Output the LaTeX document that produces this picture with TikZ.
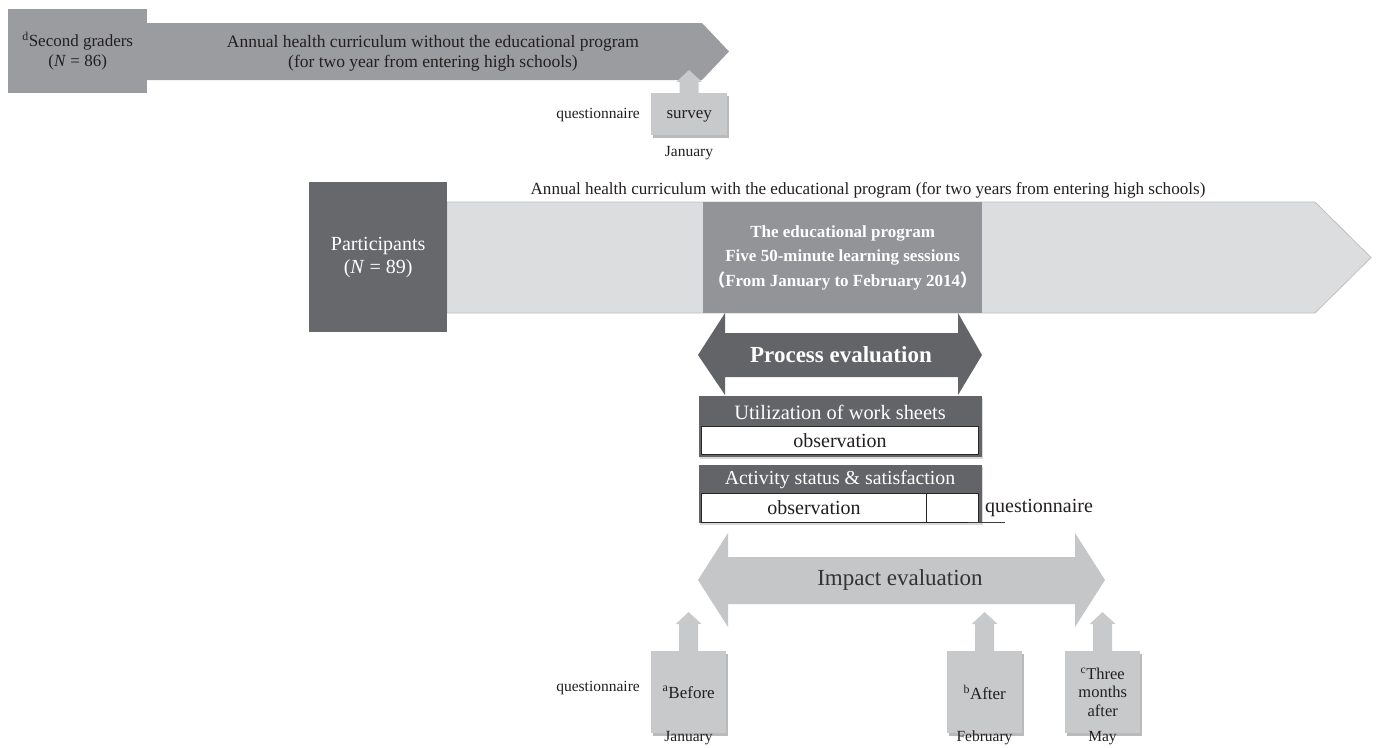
\documentclass[tikz,border=0pt]{standalone}
\usepackage{fontspec}
\setmainfont{Liberation Serif}
\newfontfamily\cjk{Noto Sans CJK SC}
\usetikzlibrary{arrows.meta,shadows}
\definecolor{topgray}{RGB}{155,156,159}
\definecolor{partdark}{RGB}{103,104,108}
\definecolor{lightarrow}{RGB}{220,221,223}
\definecolor{lightborder}{RGB}{190,191,194}
\definecolor{edugray}{RGB}{147,148,152}
\definecolor{procdark}{RGB}{99,100,104}
\definecolor{boxgray}{RGB}{200,201,203}
\definecolor{impactgray}{RGB}{197,198,200}
\definecolor{textdark}{RGB}{35,31,32}
\begin{document}
\begin{tikzpicture}[x=1pt,y=-1pt,
  txt/.style={inner sep=0pt, align=center, text=textdark},
  fs/.style 2 args={font=\fontsize{#1}{#2}\selectfont},
  smallbox/.style={fill=boxgray, minimum width=75pt, minimum height=82pt, inner sep=0pt,
    align=center, anchor=north west, text=textdark,
    drop shadow={shadow xshift=1.5pt, shadow yshift=-2.5pt, opacity=0.45, fill=black!60}},
  uparrow/.style={draw=boxgray, line width=19pt, -{Triangle[width=25pt,length=12pt]}},
  darkbox/.style={fill=procdark, anchor=north west, inner sep=0pt, minimum width=283pt,
    drop shadow={shadow xshift=1pt, shadow yshift=-1.5pt, opacity=0.3, fill=black!50}},
  obsbox/.style={fill=white, draw=black!85, line width=1.1pt, anchor=north west, inner sep=0pt,
    minimum height=28pt, text=textdark, fs={20}{22}},
]
\useasboundingbox (0,0) rectangle (1376,747);

% ---------- top arrow (second graders) ----------
\fill[topgray] (147,23) -- (702,23) -- (729,51.5) -- (702,80) -- (147,80) -- cycle;
\node[fill=topgray, anchor=north west, minimum width=139pt, minimum height=84pt, inner sep=0pt,
  txt, fs={17}{20}] (second) at (8,9) {\textsuperscript{d}Second graders\\(\textit{N} = 86)};
\node[txt, fs={17.5}{20}] (toptext) at (433,53)
  {Annual health curriculum without the educational program\\(for two year from entering high schools)};

\node[smallbox, minimum width=76pt, minimum height=42pt, text depth=0pt, fs={17}{20}] (survey) at (651,93) {survey};
\coordinate (surveytip) at (689,70);
\draw[uparrow] (survey.north) -- (surveytip);
\node[txt, fs={15.5}{18}, anchor=east] (q1) at (640,115) {questionnaire};
\node[txt, fs={15.5}{18}] (jan1) at (689,153) {January};

% ---------- lower main arrow ----------
\node[txt, fs={17.1}{19}] (mainlabel) at (868,190)
  {Annual health curriculum with the educational program (for two years from entering high schools)};
\filldraw[fill=lightarrow, draw=lightborder, line width=0.8pt]
  (447,202) -- (1315,202) -- (1371,257.5) -- (1315,313) -- (447,313) -- cycle;
\node[fill=partdark, anchor=north west, minimum width=138pt, minimum height=150pt, inner sep=0pt,
  align=center, text=white, fs={20}{23}] (part) at (309,182) {Participants\\(\textit{N} = 89)};
\node[fill=edugray, anchor=north west, minimum width=279pt, minimum height=111pt, inner sep=0pt,
  align=center, text=white, font=\bfseries\fontsize{17}{24.5}\selectfont] (edu) at (703,202)
  {The educational program\\Five 50-minute learning sessions\\{\cjk （}From January to February 2014{\cjk ）}};

% ---------- process evaluation ----------
\fill[procdark] (698,355) -- (725,313) -- (725,333) -- (958,333) -- (958,313) -- (982,355)
  -- (958,395) -- (958,377) -- (725,377) -- (725,395) -- cycle;
\node[text=white, inner sep=0pt, font=\bfseries\fontsize{23}{26}\selectfont] (proc) at (841,355) {Process evaluation};

\node[darkbox, minimum height=61pt] (util) at (699,396) {};
\node[text=white, inner sep=0pt, fs={20.4}{22}] (utilhead) at (840,412) {Utilization of work sheets};
\node[obsbox, minimum width=277pt] (utilobs) at (701,426) {observation};

\node[darkbox, minimum height=58pt] (act) at (699,465) {};
\node[text=white, inner sep=0pt, fs={19.8}{22}] (acthead) at (840,480) {Activity status \& satisfaction};
\node[obsbox, minimum width=225pt, minimum height=29pt] (actobs) at (701,493) {observation};
\node[obsbox, minimum width=52pt, minimum height=29pt] (actq) at (926,493) {};
\node[txt, fs={20}{22}, anchor=west] (q2) at (985,508) {questionnaire};
\coordinate (ql) at (968,522);
\coordinate (qr) at (1005,522);
\draw[black!75, line width=0.8pt] (ql) -- (qr);

% ---------- impact evaluation ----------
\fill[impactgray] (698,580) -- (728,533) -- (728,557) -- (1075,557) -- (1075,533) -- (1105,580)
  -- (1075,627) -- (1075,604) -- (728,604) -- (728,627) -- cycle;
\node[inner sep=0pt, text=black!80, fs={23}{26}] (impact) at (900,580) {Impact evaluation};

\node[smallbox, fs={17}{20}] (before) at (651,651) {\textsuperscript{a}Before};
\node[smallbox, fs={17}{20}] (after) at (947,651) {\textsuperscript{b}After};
\node[smallbox, fs={16.5}{18.5}] (three) at (1065,651) {\textsuperscript{c}Three\\months\\after};
\coordinate (beforetip) at (688.5,612);
\coordinate (aftertip) at (984.5,612);
\coordinate (threetip) at (1102.5,612);
\draw[uparrow] (before.north) -- (beforetip);
\draw[uparrow] (after.north) -- (aftertip);
\draw[uparrow] (three.north) -- (threetip);

\node[txt, fs={15.5}{18}, anchor=east] (q3) at (640,688) {questionnaire};
\node[txt, fs={15.5}{18}] (jan2) at (688.5,738) {January};
\node[txt, fs={15.5}{18}] (feb) at (984.5,738) {February};
\node[txt, fs={15.5}{18}] (may) at (1102.5,738) {May};
\end{tikzpicture}
\end{document}
